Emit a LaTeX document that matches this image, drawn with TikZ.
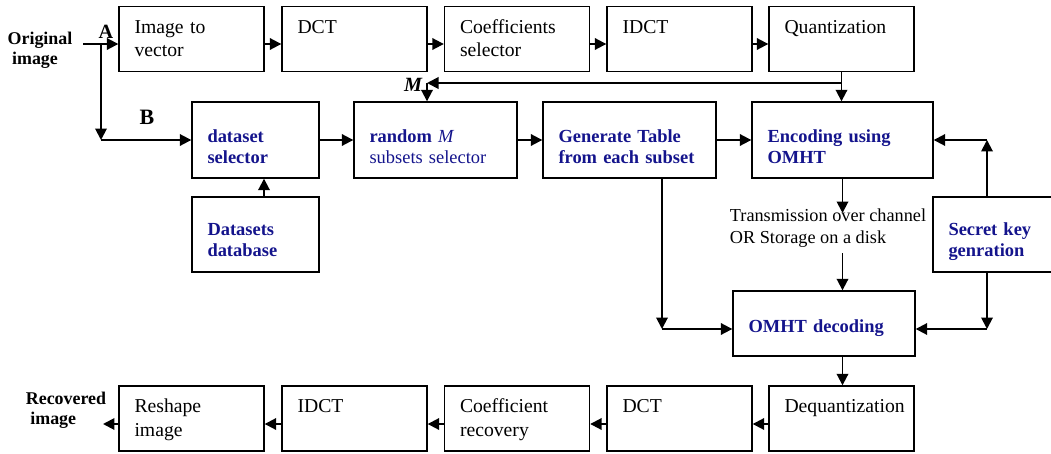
\documentclass[tikz,border=0pt]{standalone}
\usepackage{fontspec}
\setmainfont{Liberation Serif}
\usetikzlibrary{arrows.meta}
\definecolor{dkblue}{RGB}{20,20,140}
\begin{document}
\begin{tikzpicture}[x=0.02cm,y=-0.02cm,>={Triangle[length=2.3mm,width=2.3mm]},
	box/.style={draw,line width=0.8pt,align=left,inner xsep=0.31cm,inner ysep=0pt},
	bk/.style={box,text width=2.28cm,text height=0.53cm,text depth=0.77cm,font=\fontsize{11.2}{13.6}\selectfont},
	bl/.style={box,text=dkblue,font=\fontsize{10.5}{12.4}\selectfont\bfseries},
	row/.style={text height=0.8cm,text depth=0.72cm},
	ar/.style={->,line width=1.1pt}]
	\useasboundingbox (0,0) rectangle (1051,453);
	\node[bk] (ivec) at (191.5,39) {Image to\\vector};
	\node[bk] (dct) at (354.5,39) {DCT};
	\node[bk] (coef) at (517,39) {Coefficients\\selector};
	\node[bk] (idct) at (679.5,39) {IDCT};
	\node[bk] (quant) at (841.5,39) {Quantization};
	\node[bl,row,text width=1.92cm] (dsel) at (255.5,140) {dataset\\selector};
	\node[bl,row,text width=2.64cm] (rand) at (435.5,140) {random \textmd{\textit{M}}\\{\mdseries subsets selector}};
	\node[bl,row,text width=2.84cm] (gen) at (629.5,140) {Generate Table\\from each subset};
	\node[bl,row,text width=3.0cm] (enc) at (842.5,140) {Encoding using\\OMHT};
	\node[bl,text width=1.92cm,text height=0.76cm,text depth=0.74cm] (dbase) at (255.5,234.5) {Datasets\\database};
	\node[bl,text width=1.82cm,text height=0.76cm,text depth=0.74cm] (key) at (994,234.5) {Secret key\\genration};
	\node[bl,text width=3.02cm,text height=0.82cm,text depth=0.48cm] (dec) at (824,323.5) {OMHT decoding};
	\node[bk] (reshape) at (191.5,418.5) {Reshape\\image};
	\node[bk] (idcti) at (354.5,418.5) {IDCT};
	\node[bk] (crec) at (517,418.5) {Coefficient\\recovery};
	\node[bk] (dcti) at (679.5,418.5) {DCT};
	\node[bk] (deq) at (841.5,418.5) {Dequantization};
	\node[font=\fontsize{10.2}{11.4}\selectfont\bfseries,align=left] (orig) at (40,50) {Original\\\ image};
	\node[font=\fontsize{10.2}{11.4}\selectfont\bfseries,align=left] (rec) at (66,410) {Recovered\\\ image};
	\node[font=\fontsize{11.5}{12}\selectfont\bfseries] (A) at (106,31.5) {A};
	\node[font=\fontsize{12.5}{14}\selectfont\bfseries] (B) at (147,117) {B};
	\node[font=\fontsize{11.5}{12}\selectfont\bfseries\itshape] (Mlab) at (413,85) {M};
	\node[font=\fontsize{10.4}{12.5}\selectfont,align=left] (chan) at (828,228) {Transmission over channel\\OR Storage on a disk};
	\coordinate (a0) at (83,44);
	\coordinate (a1) at (101,44);
	\coordinate (b0) at (101,140);
	\coordinate (m) at (427,83);
	\coordinate (t1) at (842.5,213);
	\coordinate (t2) at (842.5,253);
	\coordinate (g) at (662,329);
	\coordinate (k1) at (987,140);
	\coordinate (k2) at (987,329);
	\coordinate (r) at (103,424);
	\draw[ar] (a0) -- (a0 -| ivec.west);
	\draw[ar] (a1) -- (b0);
	\draw[ar] (b0) -- (dsel.west);
	\draw[ar] ([yshift=-0.1cm]ivec.east) -- ([yshift=-0.1cm]dct.west);
	\draw[ar] ([yshift=-0.1cm]dct.east) -- ([yshift=-0.1cm]coef.west);
	\draw[ar] ([yshift=-0.1cm]coef.east) -- ([yshift=-0.1cm]idct.west);
	\draw[ar] ([yshift=-0.1cm]idct.east) -- ([yshift=-0.1cm]quant.west);
	\draw[ar] (quant.south) -- (quant.south |- enc.north);
	\draw[ar] (quant.south |- m) -- (m);
	\draw[ar] (m) -- (m |- rand.north);
	\draw[ar] ([xshift=0.17cm]dbase.north) -- ([xshift=0.17cm]dsel.south);
	\draw[ar] (dsel) -- (rand);
	\draw[ar] (rand) -- (gen);
	\draw[ar] (gen) -- (enc);
	\draw[ar] (t1 |- enc.south) -- (t1);
	\draw[ar] (t2) -- (t2 |- dec.north);
	\draw[ar] (g |- gen.south) -- (g);
	\draw[ar] (g) -- (g -| dec.west);
	\draw[ar] (k1 |- key.north) -- (k1);
	\draw[ar] (k1) -- (enc.east);
	\draw[ar] (k2 |- key.south) -- (k2);
	\draw[ar] (k2) -- (k2 -| dec.east);
	\draw[ar] (t2 |- dec.south) -- (t2 |- deq.north);
	\draw[ar] ([yshift=-0.11cm]deq.west) -- ([yshift=-0.11cm]dcti.east);
	\draw[ar] ([yshift=-0.11cm]dcti.west) -- ([yshift=-0.11cm]crec.east);
	\draw[ar] ([yshift=-0.11cm]crec.west) -- ([yshift=-0.11cm]idcti.east);
	\draw[ar] ([yshift=-0.11cm]idcti.west) -- ([yshift=-0.11cm]reshape.east);
	\draw[ar] (reshape.west |- r) -- (r);
\end{tikzpicture}
\end{document}
